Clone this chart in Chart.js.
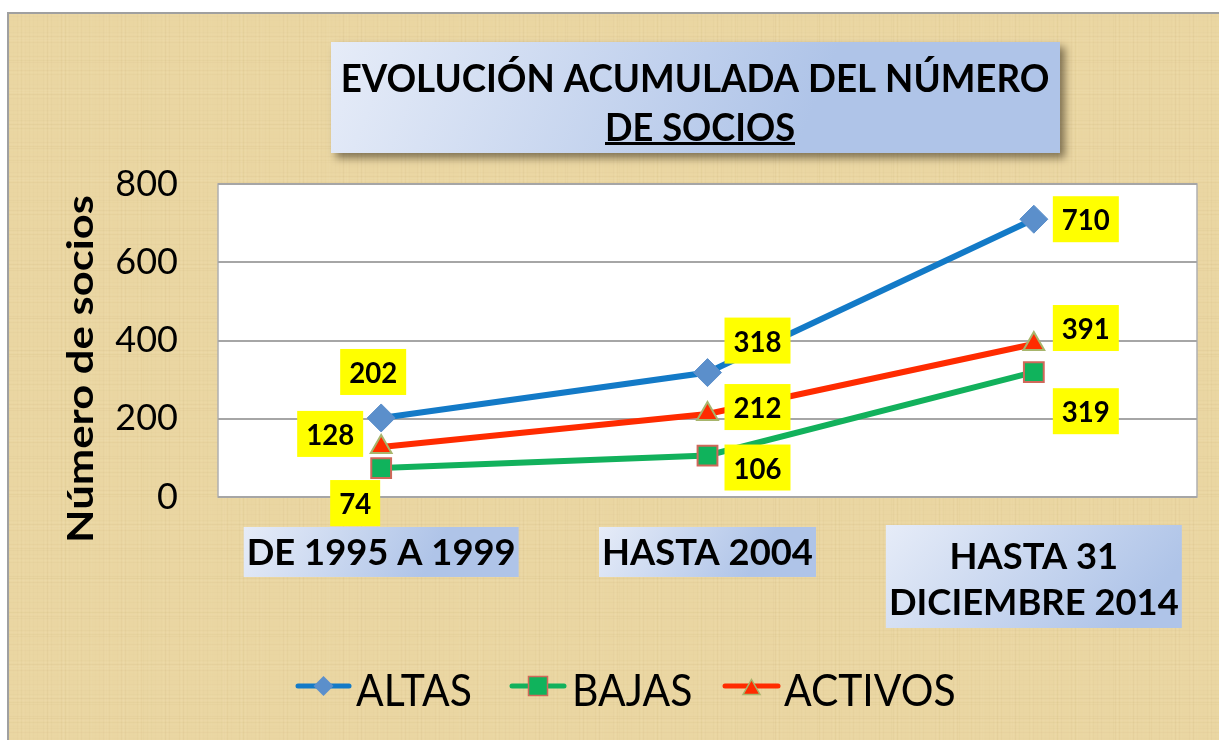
<!DOCTYPE html>
<html>
<head>
<meta charset="utf-8">
<script src="https://cdn.jsdelivr.net/npm/chart.js"></script>
<style>
  html, body { margin: 0; padding: 0; background: #fff; }
  #wrap { width: 1219px; height: 740px; }
</style>
</head>
<body>
<div id="wrap"><canvas id="socios" width="1219" height="740"></canvas></div>
<script>
// datos
const categorias = [['DE 1995 A 1999'], ['HASTA 2004'], ['HASTA 31', 'DICIEMBRE 2014']];
const altas = [202, 318, 710];
const bajas = [74, 106, 319];
const activos = [128, 212, 391];
const yTicks = [0, 200, 400, 600, 800];
const seriesNames = ['ALTAS', 'BAJAS', 'ACTIVOS'];
const tituloLineas = ['EVOLUCIÓN ACUMULADA DEL NÚMERO', 'DE SOCIOS'];
const tituloEje = 'Número de socios';

// label offsets (px) from each point: [dx, dy]
const labelOffsets = [
    [[-8, -46], [50, -32], [52, 0]],
    [[-26, 35], [50, 12], [52, 39]],
    [[-51, -13], [50, -7], [52, -16]]
];

const FONT = 'Lato, "Open Sans", sans-serif';

function fitSize(ctx, text, weight, width) {
    ctx.font = `${weight} 100px ${FONT}`;
    return 100 * width / ctx.measureText(text).width;
}

// draws text with a vertical stretch so cap height matches
function stretchText(ctx, text, x, cy, weight, size, capH, align) {
    ctx.save();
    ctx.font = `${weight} ${size}px ${FONT}`;
    const cap = ctx.measureText('H').actualBoundingBoxAscent || size * 0.72;
    const sy = capH / cap;
    ctx.translate(x, cy + capH / 2);
    ctx.scale(1, sy);
    ctx.textAlign = align || 'center';
    ctx.textBaseline = 'alphabetic';
    ctx.fillStyle = '#000';
    ctx.fillText(text, 0, 0);
    ctx.restore();
}

function blueBox(ctx, x, y, w, h, shadow) {
    ctx.save();
    if (shadow) {
        ctx.shadowColor = 'rgba(60,50,30,0.6)';
        ctx.shadowBlur = 8;
        ctx.shadowOffsetX = 5;
        ctx.shadowOffsetY = 5;
    }
    const g = ctx.createLinearGradient(x, y, x + w * 0.6, y + h * 1.6);
    g.addColorStop(0, '#E6ECF8');
    g.addColorStop(1, '#AFC4E8');
    ctx.fillStyle = g;
    ctx.fillRect(x, y, w, h);
    ctx.restore();
}

function marker(ctx, type, x, y, w, h, fill, stroke, lw) {
    ctx.save();
    ctx.beginPath();
    if (type === 'diamond') {
        ctx.moveTo(x, y - h / 2); ctx.lineTo(x + w / 2, y); ctx.lineTo(x, y + h / 2); ctx.lineTo(x - w / 2, y);
    } else if (type === 'square') {
        ctx.rect(x - w / 2, y - h / 2, w, h);
    } else {
        ctx.moveTo(x, y - h / 2); ctx.lineTo(x + w / 2, y + h / 2); ctx.lineTo(x - w / 2, y + h / 2);
    }
    ctx.closePath();
    ctx.fillStyle = fill;
    ctx.fill();
    if (stroke) { ctx.strokeStyle = stroke; ctx.lineWidth = lw; ctx.stroke(); }
    ctx.restore();
}

const estilos = [
    {line: '#137AC7', fill: '#5B8FCB', stroke: null, lw: 0, shape: 'diamond', ps: 'rectRot', r: 14},
    {line: '#12B15C', fill: '#10B35C', stroke: '#D0685A', lw: 2, shape: 'square', ps: 'rect', r: 14},
    {line: '#FF2B00', fill: '#FF2B00', stroke: '#A7B56C', lw: 2, shape: 'triangle', ps: 'triangle', r: 12}
];

const fondoPlugin = {
    id: 'fondo',
    beforeDraw(chart) {
        const ctx = chart.ctx;
        const W = chart.width, H = chart.height;
        ctx.save();
        ctx.fillStyle = '#fff';
        ctx.fillRect(0, 0, W, H);
        ctx.fillStyle = '#EAD6A2';
        ctx.fillRect(8, 13, W - 8, H - 13);
        // papyrus-like fibres
        for (let x = 9; x < W; x += 2) {
            const a = 0.04 * Math.abs(Math.sin(x * 0.37) + Math.cos(x * 0.053));
            ctx.fillStyle = (Math.sin(x * 1.7 + Math.cos(x * 0.11)) > 0 ? 'rgba(255,246,215,' : 'rgba(175,145,85,') + a + ')';
            ctx.fillRect(x, 13, 1, H - 13);
        }
        for (let y = 14; y < H; y += 2) {
            const a = 0.04 * Math.abs(Math.sin(y * 0.29) + Math.cos(y * 0.071));
            ctx.fillStyle = (Math.cos(y * 1.3 + Math.sin(y * 0.09)) > 0 ? 'rgba(255,246,215,' : 'rgba(175,145,85,') + a + ')';
            ctx.fillRect(8, y, W - 8, 1);
        }
        ctx.strokeStyle = '#A0A0A0';
        ctx.lineWidth = 2;
        ctx.strokeRect(8, 13, W, H);
        const a = chart.chartArea;
        ctx.fillStyle = '#fff';
        ctx.fillRect(a.left, a.top, a.right - a.left, a.bottom - a.top);
        ctx.strokeStyle = '#B0B0B0';
        ctx.lineWidth = 1.5;
        ctx.strokeRect(a.left, a.top, a.right - a.left, a.bottom - a.top);
        ctx.restore();
    }
};

const etiquetasPlugin = {
    id: 'etiquetas',
    afterDatasetsDraw(chart) {
        const ctx = chart.ctx;
        const size = fitSize(ctx, '000', 'bold', 48);
        chart.data.datasets.forEach((ds, i) => {
            chart.getDatasetMeta(i).data.forEach((pt, j) => {
                const [dx, dy] = labelOffsets[i][j];
                const txt = String(ds.data[j]);
                const cx = pt.x + dx, cy = pt.y + dy;
                ctx.save();
                ctx.font = `bold ${size}px ${FONT}`;
                const w = ctx.measureText(txt).width + 18;
                ctx.fillStyle = '#FFFF00';
                ctx.fillRect(cx - w / 2, cy - 23, w, 46);
                ctx.restore();
                stretchText(ctx, txt, cx, cy, 'bold', size, 22, 'center');
            });
        });
    }
};

const textosPlugin = {
    id: 'textos',
    afterDraw(chart) {
        const ctx = chart.ctx;
        const xs = chart.scales.x;

        // title box
        blueBox(ctx, 331, 42, 729, 111, true);
        let s = fitSize(ctx, tituloLineas[0], 'bold', 709);
        stretchText(ctx, tituloLineas[0], 695, 78, 'bold', s, 27, 'center');
        s = fitSize(ctx, tituloLineas[1], 'bold', 190);
        stretchText(ctx, tituloLineas[1], 700, 127, 'bold', s, 27, 'center');
        ctx.fillStyle = '#000';
        ctx.fillRect(605, 142, 190, 3);

        // y axis title
        ctx.save();
        ctx.translate(79, 369);
        ctx.rotate(-Math.PI / 2);
        s = fitSize(ctx, tituloEje, 'bold', 348);
        stretchText(ctx, tituloEje, 0, 0, 'bold', s, 27, 'center');
        ctx.restore();

        // category boxes
        const cajas = [
            {y: 527, h: 50, w: 275},
            {y: 527, h: 50, w: 217},
            {y: 525, h: 103, w: 296}
        ];
        const catSize = fitSize(ctx, categorias[0][0], 'bold', 269);
        categorias.forEach((lines, i) => {
            const cx = xs.getPixelForValue(i);
            const c = cajas[i];
            blueBox(ctx, cx - c.w / 2, c.y, c.w, c.h, false);
            lines.forEach((t, k) => {
                const cy = lines.length === 1 ? c.y + c.h / 2 : c.y + 31 + k * 46;
                stretchText(ctx, t, cx, cy, 'bold', catSize, 26, 'center');
            });
        });

        // legend
        const leg = [{x1: 296, x2: 351, tx: 356}, {x1: 510, x2: 566, tx: 572}, {x1: 723, x2: 780, tx: 784}];
        const legSize = fitSize(ctx, seriesNames[0], 'normal', 116);
        const ly = 686;
        leg.forEach((l, i) => {
            const e = estilos[i];
            ctx.save();
            ctx.strokeStyle = e.line;
            ctx.lineWidth = 5;
            ctx.lineCap = 'round';
            ctx.beginPath();
            ctx.moveTo(l.x1 + 2, ly);
            ctx.lineTo(l.x2 - 2, ly);
            ctx.stroke();
            ctx.restore();
            const mx = (l.x1 + l.x2) / 2;
            if (e.shape === 'diamond') marker(ctx, 'diamond', mx, ly, 20, 20, e.fill, null, 0);
            else if (e.shape === 'square') marker(ctx, 'square', mx, ly, 19, 19, e.fill, e.stroke, 1.5);
            else marker(ctx, 'triangle', mx, ly + 1, 17, 15, e.fill, e.stroke, 1.5);
            stretchText(ctx, seriesNames[i], l.tx, 690, 'normal', legSize, 31, 'left');
        });
    }
};

const series = [altas, bajas, activos];
const datasets = series.map((d, i) => ({
    label: seriesNames[i],
    data: d,
    borderColor: estilos[i].line,
    borderWidth: 6,
    tension: 0,
    pointStyle: estilos[i].ps,
    pointRadius: estilos[i].r,
    pointHoverRadius: estilos[i].r,
    pointBackgroundColor: estilos[i].fill,
    pointBorderColor: estilos[i].stroke || estilos[i].fill,
    pointBorderWidth: estilos[i].lw || 1
}));

const chart = new Chart(document.getElementById('socios'), {
    type: 'line',
    data: {labels: categorias, datasets: datasets},
    options: {
        responsive: false,
        animation: false,
        devicePixelRatio: 1,
        layout: {padding: {top: 184, right: 22, bottom: 243, left: 0}},
        plugins: {legend: {display: false}, tooltip: {enabled: false}, title: {display: false}},
        scales: {
            x: {display: false, offset: true},
            y: {
                min: 0, max: 800,
                afterFit: (scale) => { scale.width = 218; },
                afterBuildTicks: (scale) => { scale.ticks = yTicks.map(v => ({value: v})); },
                border: {display: false},
                grid: {color: '#A6A6A6', lineWidth: 2, drawTicks: false},
                ticks: {
                    padding: 40,
                    color: '#000',
                    font: {family: FONT, size: 36}
                }
            }
        }
    },
    plugins: [fondoPlugin, etiquetasPlugin, textosPlugin]
});
</script>
</body>
</html>
